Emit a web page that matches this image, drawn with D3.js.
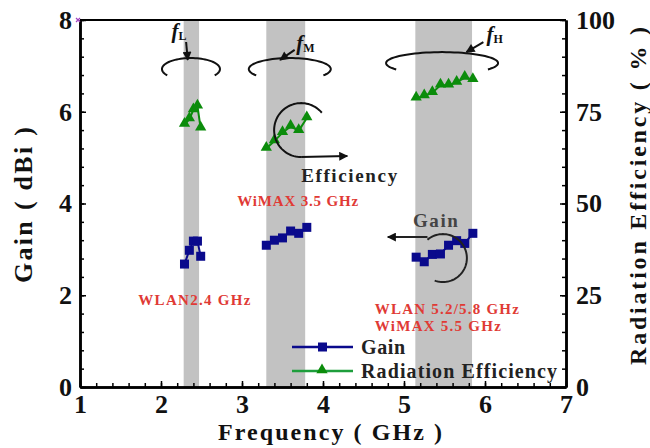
<!DOCTYPE html>
<html><head><meta charset="utf-8">
<script src="https://cdn.jsdelivr.net/npm/d3@7"></script>
<style>
body{margin:0;background:#fff}
svg text{font-family:"Liberation Serif","Times New Roman",serif;font-weight:bold}
</style></head><body>
<script>
var width = 650, height = 448;

// frequency bands (GHz)
var bands = [[2.28, 2.47], [3.30, 3.78], [5.14, 5.84]];
// measured points per band
var freqL = [2.29, 2.35, 2.40, 2.45, 2.49];
var gainL = [2.68, 2.98, 3.18, 3.18, 2.85];
var effL  = [71.5, 73.0, 75.5, 76.5, 70.5];
var freqM = [3.3, 3.4, 3.5, 3.6, 3.7, 3.8];
var gainM = [3.09, 3.20, 3.25, 3.40, 3.35, 3.48];
var effM  = [65.0, 67.0, 69.3, 71.0, 69.8, 73.3];
var freqH = [5.15, 5.25, 5.35, 5.45, 5.55, 5.65, 5.75, 5.85];
var gainH = [2.83, 2.73, 2.89, 2.90, 3.09, 3.19, 3.13, 3.35];
var effH  = [78.7, 79.3, 80.2, 82.2, 82.2, 83.0, 84.3, 83.7];
// axis ticks
var xTicks = [1, 2, 3, 4, 5, 6, 7];
var gainTicks = [0, 2, 4, 6, 8];
var effTicks = [0, 25, 50, 75, 100];

var gainColor = "#0a0a8c", effColor = "#0b8c0b";
var red = "#e03a35";

var svg = d3.select("body").append("svg").attr("width", width).attr("height", height);

var x = d3.scaleLinear().domain([1, 7]).range([80, 566]);
var yG = d3.scaleLinear().domain([0, 8]).range([387, 20]);
var yE = d3.scaleLinear().domain([0, 100]).range([387, 20]);

var defs = svg.append("defs");
defs.append("marker").attr("id", "ah").attr("viewBox", "0 0 10 10")
	.attr("refX", 9).attr("refY", 5).attr("markerWidth", 11).attr("markerHeight", 9)
	.attr("markerUnits", "userSpaceOnUse").attr("orient", "auto")
	.append("path").attr("d", "M0,0L10,5L0,10z").attr("fill", "#111");

// grey bands
svg.selectAll(".band").data(bands).enter().append("rect").attr("class", "band")
	.attr("x", function(d){ return x(d[0]); }).attr("width", function(d){ return x(d[1]) - x(d[0]); })
	.attr("y", yG(8)).attr("height", yG(0) - yG(8)).attr("fill", "#c2c2c2");

// frame top
svg.append("line").attr("x1", x(1)).attr("x2", x(7)).attr("y1", yG(8)).attr("y2", yG(8))
	.attr("stroke", "#000").attr("stroke-width", 2);

function styleAxis(g){
	g.select(".domain").attr("stroke", "#000").attr("stroke-width", 2.5);
	g.selectAll(".tick line").attr("stroke", "#000").attr("stroke-width", 1.5);
	g.selectAll("text").attr("font-size", 26).attr("fill", "#111")
		.style("font-family", "'Liberation Serif','Times New Roman',serif").style("font-weight", "bold");
}

// minor ticks
svg.append("g").attr("transform", "translate(0,387)")
	.call(d3.axisBottom(x).tickValues(d3.range(1, 7.001, 0.2)).tickSize(-4).tickSizeOuter(0).tickFormat(""))
	.call(styleAxis);
svg.append("g").attr("transform", "translate(80,0)")
	.call(d3.axisLeft(yG).tickValues(d3.range(0, 8.001, 0.4)).tickSize(-4).tickSizeOuter(0).tickFormat(""))
	.call(styleAxis);
svg.append("g").attr("transform", "translate(566,0)")
	.call(d3.axisRight(yE).tickValues(d3.range(0, 100.1, 5)).tickSize(-4).tickSizeOuter(0).tickFormat(""))
	.call(styleAxis);

// major ticks + labels
svg.append("g").attr("transform", "translate(0,387)")
	.call(d3.axisBottom(x).tickValues(xTicks).tickSize(-6).tickSizeOuter(0).tickPadding(8).tickFormat(d3.format("d")))
	.call(styleAxis);
svg.append("g").attr("transform", "translate(80,0)")
	.call(d3.axisLeft(yG).tickValues(gainTicks).tickSize(-6).tickSizeOuter(0).tickPadding(8).tickFormat(d3.format("d")))
	.call(styleAxis);
svg.append("g").attr("transform", "translate(566,0)")
	.call(d3.axisRight(yE).tickValues(effTicks).tickSize(-6).tickSizeOuter(0).tickPadding(10).tickFormat(d3.format("d")))
	.call(styleAxis);

// little purple mark at corner
svg.append("path").attr("d", "M76,18L80,22M80,18L76,22").attr("stroke", "#a040c0").attr("stroke-width", 1.2);

// axis titles
svg.append("text").attr("x", 330).attr("y", 440).attr("text-anchor", "middle")
	.attr("font-size", 24).attr("fill", "#111").attr("textLength", 224).text("Frequency ( GHz )");
svg.append("text").attr("transform", "translate(32,205) rotate(-90)").attr("text-anchor", "middle")
	.attr("font-size", 26).attr("fill", "#111").attr("textLength", 156).text("Gain ( dBi )");
svg.append("text").attr("transform", "translate(646,196) rotate(-90)").attr("text-anchor", "middle")
	.attr("font-size", 24).attr("fill", "#111").attr("textLength", 338).text("Radiation Efficiency ( % )");

// series
var groups = [[freqL, gainL, effL], [freqM, gainM, effM], [freqH, gainH, effH]];
var tri = d3.symbol().type(d3.symbolTriangle).size(55);

groups.forEach(function(gp){
	var gData = gp[0].map(function(f, i){ return [f, gp[1][i]]; });
	var eData = gp[0].map(function(f, i){ return [f, gp[2][i]]; });
	svg.append("path").attr("d", d3.line().x(function(d){ return x(d[0]); }).y(function(d){ return yE(d[1]); })(eData))
		.attr("fill", "none").attr("stroke", effColor).attr("stroke-width", 2);
	svg.selectAll(null).data(eData).enter().append("path")
		.attr("transform", function(d){ return "translate(" + x(d[0]) + "," + (yE(d[1]) - 1) + ")"; })
		.attr("d", tri).attr("fill", effColor);
	svg.append("path").attr("d", d3.line().x(function(d){ return x(d[0]); }).y(function(d){ return yG(d[1]); })(gData))
		.attr("fill", "none").attr("stroke", gainColor).attr("stroke-width", 2);
	svg.selectAll(null).data(gData).enter().append("rect")
		.attr("x", function(d){ return x(d[0]) - 4.5; }).attr("y", function(d){ return yG(d[1]) - 4.5; })
		.attr("width", 9).attr("height", 9).attr("fill", gainColor);
});

// elliptical ring annotations above each band
function ellArc(cx, cy, rx, ry, a0, a1){
	var pts = d3.range(0, 61).map(function(i){
		var t = (a0 + (a1 - a0) * i / 60) * Math.PI / 180;
		return [cx + rx * Math.cos(t), cy + ry * Math.sin(t)];
	});
	return d3.line()(pts);
}
var rings = [[2.37, 6.93, 29, 11], [3.59, 6.93, 41, 11], [5.47, 7.06, 56, 11]];
rings.forEach(function(r){
	svg.append("path").attr("d", ellArc(x(r[0]), yG(r[1]), r[2], r[3], 145, 395))
		.attr("fill", "none").attr("stroke", "#111").attr("stroke-width", 2);
});

// f labels with arrows
var fLabels = [["L", 2.13, 7.6, [2.31, 7.52], [2.33, 7.13]],
	["M", 3.67, 7.35, [3.65, 7.35], [3.47, 7.13]],
	["H", 6.02, 7.55, [5.98, 7.52], [5.77, 7.3]]];
fLabels.forEach(function(f){
	var t = svg.append("text").attr("x", x(f[1])).attr("y", yG(f[2])).attr("fill", "#111");
	t.append("tspan").attr("font-size", 21).attr("font-style", "italic").text("f");
	t.append("tspan").attr("font-size", 12).attr("dy", 2).text(f[0]);
	svg.append("line").attr("x1", x(f[3][0])).attr("y1", yG(f[3][1])).attr("x2", x(f[4][0])).attr("y2", yG(f[4][1]))
		.attr("stroke", "#111").attr("stroke-width", 2).attr("marker-end", "url(#ah)");
});

// efficiency pointer
var ec = [x(3.73), yG(5.6)];
svg.append("path").attr("d", ellArc(ec[0], ec[1], 27, 27, -40, -270))
	.attr("fill", "none").attr("stroke", "#111").attr("stroke-width", 2);
svg.append("line").attr("x1", ec[0]).attr("y1", ec[1] + 27).attr("x2", x(4.3)).attr("y2", ec[1] + 26)
	.attr("stroke", "#111").attr("stroke-width", 2).attr("marker-end", "url(#ah)");
svg.append("text").attr("x", x(3.73)).attr("y", yG(4.46)).attr("font-size", 19).attr("fill", "#222")
	.attr("textLength", 96).text("Efficiency");

// gain pointer
var gc = [x(5.48), yG(2.81)];
svg.append("path").attr("d", ellArc(gc[0], gc[1], 24, 24, -130, 110))
	.attr("fill", "none").attr("stroke", "#222").attr("stroke-width", 2);
svg.append("line").attr("x1", gc[0] - 15.4).attr("y1", gc[1] - 21).attr("x2", x(4.8)).attr("y2", gc[1] - 21)
	.attr("stroke", "#222").attr("stroke-width", 2).attr("marker-end", "url(#ah)");
svg.append("text").attr("x", x(5.11)).attr("y", yG(3.48)).attr("font-size", 19).attr("fill", "#444")
	.attr("textLength", 45).text("Gain");

// band labels
var bandLabels = [["WLAN2.4 GHz", 1.72, 1.79, 112], ["WiMAX 3.5 GHz", 2.94, 3.94, 121],
	["WLAN 5.2/5.8 GHz", 4.64, 1.59, 144], ["WiMAX 5.5 GHz", 4.64, 1.22, 126]];
svg.selectAll(".blab").data(bandLabels).enter().append("text").attr("class", "blab")
	.attr("x", function(d){ return x(d[1]); }).attr("y", function(d){ return yG(d[2]); })
	.attr("font-size", 15).attr("fill", red)
	.attr("textLength", function(d){ return d[3]; }).text(function(d){ return d[0]; });

// legend
var legend = [["Gain", gainColor, "sq", 44], ["Radiation Efficiency", "#1e9e3c", "tri", 196]];
legend.forEach(function(l, i){
	var ly = 347 + i * 24;
	svg.append("line").attr("x1", 292).attr("x2", 353).attr("y1", ly).attr("y2", ly)
		.attr("stroke", l[1]).attr("stroke-width", 2.5);
	if (l[2] == "sq")
		svg.append("rect").attr("x", 318).attr("y", ly - 4.5).attr("width", 9).attr("height", 9).attr("fill", gainColor);
	else
		svg.append("path").attr("transform", "translate(322," + (ly - 1) + ")").attr("d", tri).attr("fill", effColor);
	svg.append("text").attr("x", 361).attr("y", ly + 7).attr("font-size", 20).attr("fill", "#222")
		.attr("textLength", l[3]).text(l[0]);
});
</script>
</body></html>
